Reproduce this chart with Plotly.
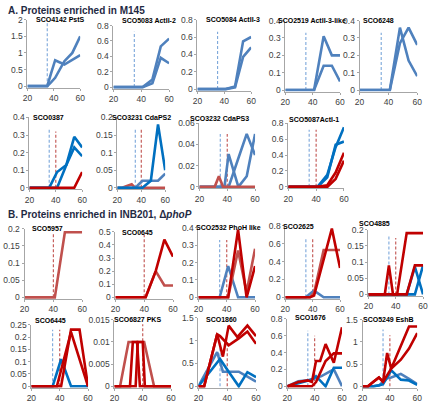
import plotly.graph_objects as go

W, H = 432, 403

# ---------------- data ----------------
T = [20, 24, 28, 32, 35, 38, 41, 48, 54, 60]
x_ticks = [20, 40, 60]

# y tick sets
yv_2 = [0, 0.5, 1, 1.5, 2];            yl_2 = ["0", "0.5", "1", "1.5", "2"]
yv_08 = [0, 0.2, 0.4, 0.6, 0.8];       yl_08 = ["0", "0.2", "0.4", "0.6", "0.8"]
yv_04 = [0, 0.1, 0.2, 0.3, 0.4];       yl_04 = ["0", "0.1", "0.2", "0.3", "0.4"]
yv_02 = [0, 0.05, 0.1, 0.15, 0.2];     yl_02 = ["0", "0.05", "0.1", "0.15", "0.2"]
yv_006 = [0, 0.02, 0.04, 0.06];        yl_006 = ["0", "0.02", "0.04", "0.06"]
yv_05 = [0, 0.1, 0.2, 0.3, 0.4, 0.5];  yl_05 = ["0", "0.1", "0.2", "0.3", "0.4", "0.5"]
yv_025 = [0, 0.05, 0.1, 0.15, 0.2, 0.25]; yl_025 = ["0", "0.05", "0.1", "0.15", "0.2", "0.25"]
yv_0015 = [0, 0.005, 0.01, 0.015];     yl_0015 = ["0", "0.005", "0.01", "0.015"]
yv_15 = [0, 0.5, 1, 1.5];              yl_15 = ["0", "0.5", "1", "1.5"]

# A. Proteins enriched in M145
sco4142_a = [0, 0, 0, 0, 0, 0.4, 0.78, 0.65, 0.8, 0.93]
sco4142_b = [0, 0, 0, 0, 0, 0.12, 0.25, 0.75, 1.0, 1.5]
sco5083_a = [0, 0, 0, 0, 0, 0, 0, 0.1, 0.53, 0.63]
sco5083_b = [0, 0, 0, 0, 0, 0, 0, 0.05, 0.38, 0.31]
sco5084_a = [0, 0, 0, 0, 0, 0, 0, 0.03, 0.55, 0.6]
sco5084_b = [0, 0, 0, 0, 0, 0, 0, 0.02, 0.37, 0.48]
sco2519_a = [0, 0, 0, 0, 0, 0, 0, 0.31, 0.2, 0.2]
sco2519_b = [0, 0, 0, 0, 0, 0, 0, 0.14, 0.14, 0.05]
sco6248_a = [0, 0, 0, 0, 0, 0, 0, 0.36, 0.17, 0.08]
sco6248_b = [0, 0, 0, 0, 0, 0, 0, 0.27, 0.36, 0.26]

sco0387_blue_a = [0, 0, 0, 0, 0, 0.045, 0.09, 0.13, 0.29, 0.23]
sco0387_blue_b = [0, 0, 0, 0, 0, 0, 0, 0.13, 0.23, 0.18]
sco0387_red = [0, 0, 0, 0, 0, 0, 0, 0, 0, 0.09]
sco3231_red = [0, 0, 0.005, 0.01, 0, 0, 0, 0, 0, 0]
sco3231_blue_d = [0, 0, 0, 0, 0, 0, 0, 0.02, 0.18, 0.05]
sco3231_blue_l = [0, 0, 0, 0, 0, 0.01, 0.02, 0.02, 0.02, 0.04]
sco3232_red_x = [20, 31, 34, 37, 60]
sco3232_red = [0, 0, 0.01, 0, 0]
sco3232_blue_a = [0, 0, 0, 0, 0, 0, 0.031, 0, 0.01, 0.05]
sco3232_blue_b = [0, 0, 0, 0, 0, 0, 0, 0.027, 0.05, 0.03]
sco5087_blue_a = [0, 0, 0, 0, 0, 0, 0, 0.15, 0.5, 0.75]
sco5087_blue_b = [0, 0, 0, 0, 0, 0, 0, 0.12, 0.53, 0.57]
sco5087_red_a = [0, 0, 0, 0, 0, 0, 0, 0.02, 0.18, 0.43]
sco5087_red_b = [0, 0, 0, 0, 0, 0, 0, 0, 0.1, 0.33]

# B. Proteins enriched in INB201, delta phoP
sco5957_red = [0, 0, 0, 0, 0, 0, 0, 0.19, 0.19, 0.19]
sco0645_red_d = [0, 0, 0, 0, 0, 0, 0, 0.2, 0.44, 0.31]
sco0645_red_l = [0, 0, 0, 0, 0, 0, 0, 0.2, 0.09, 0.09]
sco2532_blue = [0, 0, 0, 0, 0, 0.09, 0.18, 0, 0, 0]
sco2532_red_d = [0, 0, 0, 0, 0, 0, 0, 0.39, 0, 0.18]
sco2532_red_l = [0, 0, 0, 0, 0, 0, 0, 0.27, 0.03, 0.28]
sco2625_blue = [0, 0, 0, 0, 0, 0.04, 0.075, 0, 0, 0]
sco2625_red_l = [0, 0, 0, 0, 0, 0, 0.05, 0.53, 0.53, 0.53]
sco2625_red_d = [0, 0, 0, 0, 0, 0, 0.02, 0.42, 0.77, 0.33]
sco4885_red_a = [0, 0, 0, 0, 0.09, 0, 0, 0.19, 0.19, 0.19]
sco4885_red_b = [0, 0, 0, 0, 0, 0, 0, 0, 0.09, 0.09]
sco4885_blue_a = [0, 0, 0, 0, 0, 0, 0, 0, 0, 0.09]
sco4885_blue_b = [0, 0, 0, 0, 0, 0, 0, 0, 0.085, 0]

sco6445_blue = [0, 0, 0, 0, 0, 0.055, 0.11, 0, 0, 0]
sco6445_red_a = [0, 0, 0, 0, 0, 0, 0, 0.23, 0.23, 0]
sco6445_red_b_x = [20, 38, 48, 60]
sco6445_red_b = [0, 0, 0.22, 0]
sco6827_light_x = [20, 24, 30, 36, 41, 48, 60]
sco6827_light = [0, 0, 0.01, 0.01, 0.01, 0, 0]
sco6827_dark_a_x = [20, 31, 33, 36, 38, 60]
sco6827_dark_a = [0, 0, 0.01, 0.01, 0, 0]
sco6827_dark_b_x = [20, 35, 36.5, 40, 41.5, 60]
sco6827_dark_b = [0, 0, 0.01, 0.01, 0, 0]
sco1860_red_a_x = [20, 24, 33, 37, 41, 47, 54, 60]
sco1860_red_a = [0, 0, 1.14, 0.65, 1.33, 1.08, 1.33, 1.1]
sco1860_red_b_x = [20, 24, 33, 35, 41, 48, 54, 60]
sco1860_red_b = [0, 0, 1.14, 1.1, 0.9, 1.05, 1.2, 0.93]
sco1860_blue_l_x = [20, 33, 37, 41, 48, 54, 60]
sco1860_blue_l = [0, 0.75, 0.32, 0.32, 0.32, 0.21, 0.1]
sco1860_blue_d_x = [20, 35, 41, 48, 54, 60]
sco1860_blue_d = [0, 0.6, 0.32, 0, 0.31, 0.2]
sco1676_red_a_x = [20, 28, 35, 38, 41, 44, 48, 54, 60]
sco1676_red_a = [0, 0.05, 0.07, 0.05, 0.3, 0.3, 0.5, 0.28, 0.7]
sco1676_red_b_x = [20, 35, 38, 41, 48, 54, 60]
sco1676_red_b = [0, 0, 0, 0.05, 0.3, 0.39, 0.39]
sco1676_blue_d_x = [20, 32, 38, 41, 48, 54, 60]
sco1676_blue_d = [0, 0.05, 0.08, 0.12, 0, 0.22, 0.22]
sco1676_blue_l_x = [20, 28, 35, 41, 45, 54, 60]
sco1676_blue_l = [0, 0.06, 0.07, 0.1, 0.12, 0.2, 0]
sco5249_red_a = [0, 0, 0.1, 0.2, 0.1, 0.75, 0.4, 0.9, 1.35, 1.35]
sco5249_red_b = [0, 0, 0.1, 0.2, 0.1, 0.25, 0.4, 0.6, 0.85, 1.2]
sco5249_blue_l = [0, 0, 0, 0.02, 0.1, 0.18, 0.2, 0.28, 0.17, 0.05]
sco5249_blue_d = [0, 0, 0, 0.02, 0.05, 0.2, 0.36, 0.15, 0.13, 0.03]

# onset marker positions (vertical dashed lines)
blue_onset = 35
red_onset = 40

# ---------------- style ----------------
BL = "#4F81BD"
BD = "#0070C0"
RD = "#C00000"
RL = "#C0504D"
DASH_B = "#7AA6DA"
DASH_R = "#C0504D"
FONT = "Liberation Sans Narrow, Liberation Sans, Arial, sans-serif"

# panels: title, title centre (px), plot box (x0,x1,ytop,yzero px), ymax, ticks, series, dash heights
panels = [
    dict(t="SCO4142 PstS", tp=(57, 15), box=(23, 77, 15, 83), ym=2, yv=yv_2, yl=yl_2,
         s=[(T, sco4142_a, BL), (T, sco4142_b, BL)], db=2.0, dr=None),
    dict(t="SCO5083 ActII-2", tp=(147, 16), box=(111, 168, 21, 84), ym=0.8, yv=yv_08, yl=yl_08,
         s=[(T, sco5083_a, BL), (T, sco5083_b, BL)], db=0.72, dr=None),
    dict(t="SCO5084 ActII-3", tp=(233, 15), box=(197, 252, 15, 86), ym=0.8, yv=yv_08, yl=yl_08,
         s=[(T, sco5084_a, BL), (T, sco5084_b, BL)], db=0.66, dr=None),
    dict(t="SCO2519 ActII-3-like", tp=(314, 16), box=(287, 343, 16, 87), ym=0.4, yv=yv_04, yl=yl_04,
         s=[(T, sco2519_a, BL), (T, sco2519_b, BL)], db=0.33, dr=None),
    dict(t="SCO6248", tp=(382, 16), box=(363, 422, 16, 87), ym=0.4, yv=yv_04, yl=yl_04,
         s=[(T, sco6248_a, BL), (T, sco6248_b, BL)], db=0.33, dr=None),

    dict(t="SCO0387", tp=(45, 115), box=(25, 79, 115, 187), ym=0.4, yv=yv_04, yl=yl_04,
         s=[(T, sco0387_blue_a, BD), (T, sco0387_blue_b, BD), (T, sco0387_red, RD)], db=0.33, dr=0.32),
    dict(t="SCO3231 CdaPS2", tp=(140, 115), box=(115, 164, 115, 187), ym=0.2, yv=yv_02, yl=yl_02,
         s=[(T, sco3231_red, RL), (T, sco3231_blue_l, BL), (T, sco3231_blue_d, BD)], db=0.165, dr=0.165),
    dict(t="SCO3232 CdaPS3", tp=(220, 116), box=(199, 256, 121, 186), ym=0.06, yv=yv_006, yl=yl_006,
         s=[(T, sco3232_blue_a, BL), (T, sco3232_blue_b, BL), (sco3232_red_x, sco3232_red, RL)], db=0.05, dr=0.05),
    dict(t="SCO5087ActI-1", tp=(316, 117), box=(290, 347, 121, 186), ym=0.8, yv=yv_08, yl=yl_08,
         s=[(T, sco5087_blue_a, BD), (T, sco5087_blue_b, BD), (T, sco5087_red_a, RD), (T, sco5087_red_b, RD)],
         db=0.72, dr=0.72),

    dict(t="SCO5957", tp=(43, 229), box=(20, 79, 229, 299), ym=0.2, yv=yv_02, yl=yl_02,
         s=[(T, sco5957_red, RL)], db=None, dr=0.19),
    dict(t="SCO0645", tp=(136, 233), box=(113, 172, 232, 299), ym=0.5, yv=yv_05, yl=yl_05,
         s=[(T, sco0645_red_l, RL), (T, sco0645_red_d, RD)], db=None, dr=0.48),
    dict(t="SCO2532 PhoH like", tp=(229, 228), box=(198, 256, 228, 299), ym=0.4, yv=yv_04, yl=yl_04,
         s=[(T, sco2532_blue, BL), (T, sco2532_red_l, RL), (T, sco2532_red_d, RD)], db=0.33, dr=0.33),
    dict(t="SCO2625", tp=(300, 227), box=(287, 343, 226, 299), ym=0.8, yv=yv_08, yl=yl_08,
         s=[(T, sco2625_blue, BL), (T, sco2625_red_l, RL), (T, sco2625_red_d, RD)], db=0.65, dr=0.65),
    dict(t="SCO4885", tp=(378, 224), box=(372, 428, 230, 296), ym=0.2, yv=yv_02, yl=yl_02,
         s=[(T, sco4885_blue_a, BD), (T, sco4885_blue_b, BD), (T, sco4885_red_b, RD), (T, sco4885_red_a, RD)],
         db=0.18, dr=0.175),

    dict(t="SCO6445", tp=(47, 323), box=(27, 85, 327, 390), ym=0.25, yv=yv_025, yl=yl_025,
         s=[(T, sco6445_blue, BD), (T, sco6445_red_a, RD), (sco6445_red_b_x, sco6445_red_b, RD)], db=0.23, dr=0.23),
    dict(t="SCO6827 PKS", tp=(136, 322), box=(112, 170, 322, 390), ym=0.015, yv=yv_0015, yl=yl_0015,
         s=[(sco6827_light_x, sco6827_light, RL), (sco6827_dark_a_x, sco6827_dark_a, RD),
            (sco6827_dark_b_x, sco6827_dark_b, RD)], db=None, dr=0.014),
    dict(t="SCO1860", tp=(222, 322), box=(198, 257, 320, 390), ym=1.5, yv=yv_15, yl=yl_15,
         s=[(sco1860_blue_l_x, sco1860_blue_l, BL), (sco1860_blue_d_x, sco1860_blue_d, BD),
            (sco1860_red_a_x, sco1860_red_a, RD), (sco1860_red_b_x, sco1860_red_b, RD)], db=1.0, dr=0.9),
    dict(t="SCO1676", tp=(313, 320), box=(289, 345, 321, 390), ym=0.8, yv=yv_08, yl=yl_08,
         s=[(sco1676_blue_l_x, sco1676_blue_l, BL), (sco1676_blue_d_x, sco1676_blue_d, BD),
            (sco1676_red_b_x, sco1676_red_b, RD), (sco1676_red_a_x, sco1676_red_a, RD)], db=0.66, dr=0.6),
    dict(t="SCO5249 EshB", tp=(393, 322), box=(366, 422, 322, 390), ym=1.5, yv=yv_15, yl=yl_15,
         s=[(T, sco5249_blue_l, BL), (T, sco5249_blue_d, BD), (T, sco5249_red_b, RD), (T, sco5249_red_a, RD)],
         db=1.28, dr=1.15),
]

fig = go.Figure()
layout = {}
annotations = []
PAD = 1.6  # px below zero so lines at 0 are not clipped

for i, p in enumerate(panels):
    k = "" if i == 0 else str(i + 1)
    xa, ya = "x" + k, "y" + k
    x0, x1, yt, yz = p["box"]
    ym = p["ym"]
    pad = ym * PAD / (yz - yt)
    xd = [x0 / W, x1 / W]
    yd = [1 - (yz + PAD) / H, 1 - yt / H]
    axstyle = dict(showline=True, linecolor="#A6A6A6", linewidth=1, ticks="outside",
                   ticklen=2, tickcolor="#A6A6A6", showgrid=False, zeroline=False,
                   tickfont=dict(family=FONT, size=8.5, color="#404040"), fixedrange=True)
    layout["xaxis" + k] = dict(domain=xd, range=[20, 60], tickvals=x_ticks, anchor=ya, **axstyle)
    layout["yaxis" + k] = dict(domain=yd, range=[-pad, ym], tickvals=p["yv"], ticktext=p["yl"],
                               anchor=xa, **axstyle)
    # onset dashed lines
    if p["db"] is not None:
        fig.add_trace(go.Scatter(x=[blue_onset, blue_onset], y=[0, p["db"]], mode="lines",
                                 line=dict(color=DASH_B, width=1.1, dash="3px,2px"),
                                 xaxis=xa, yaxis=ya, hoverinfo="skip"))
    if p["dr"] is not None:
        fig.add_trace(go.Scatter(x=[red_onset, red_onset], y=[0, p["dr"]], mode="lines",
                                 line=dict(color=DASH_R, width=1.1, dash="3px,2px"),
                                 xaxis=xa, yaxis=ya, hoverinfo="skip"))
    for xs, ys, c in p["s"]:
        fig.add_trace(go.Scatter(x=xs, y=ys, mode="lines", line=dict(color=c, width=2.6),
                                 xaxis=xa, yaxis=ya))
    annotations.append(dict(text="<b>" + p["t"] + "</b>", x=p["tp"][0] / W, y=1 - p["tp"][1] / H,
                            xref="paper", yref="paper", xanchor="center", yanchor="middle",
                            showarrow=False, font=dict(family=FONT, size=7, color="#000000")))

annotations.append(dict(text="<b>A. Proteins enriched in M145</b>", x=1 / W, y=1 - 6 / H,
                        xref="paper", yref="paper", xanchor="left", yanchor="middle", showarrow=False,
                        font=dict(family=FONT, size=10, color="#1F2A44")))
annotations.append(dict(text="<b>B. Proteins enriched in INB201, Δ<i>phoP</i></b>", x=1 / W, y=1 - 214 / H,
                        xref="paper", yref="paper", xanchor="left", yanchor="middle", showarrow=False,
                        font=dict(family=FONT, size=10, color="#1F2A44")))

fig.update_layout(width=W, height=H, autosize=False, margin=dict(l=0, r=0, t=0, b=0),
                  paper_bgcolor="white", plot_bgcolor="white", showlegend=False,
                  hovermode=False, annotations=annotations, **layout)

fig.write_html("out.html", config={"displayModeBar": False, "staticPlot": True},
               post_script="document.body.style.margin='0';document.body.style.padding='0';"
                           "document.body.style.overflow='hidden';")
